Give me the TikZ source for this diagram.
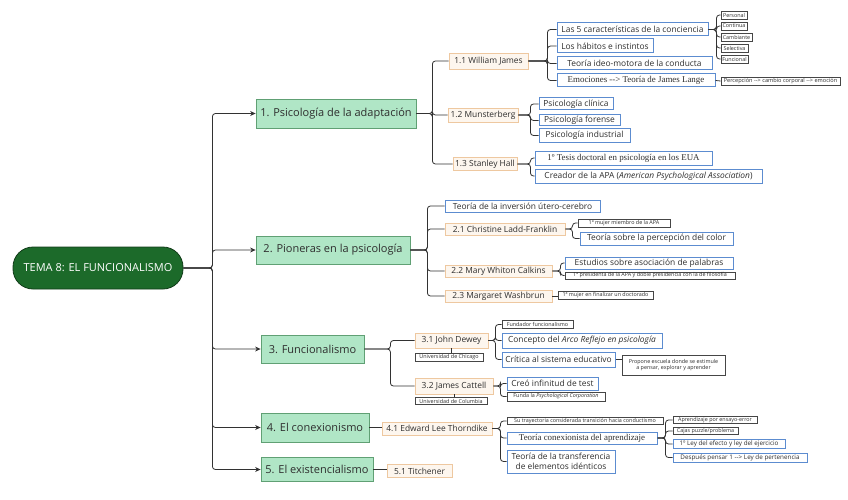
\documentclass[tikz,border=0pt]{standalone}
\usepackage{fontspec}
\setmainfont{Open Sans}
\newfontfamily\serifalt{Liberation Serif}
\usetikzlibrary{arrows.meta}
\definecolor{rootg}{RGB}{28,106,42}
\definecolor{rootd}{RGB}{18,60,25}
\definecolor{mint}{RGB}{176,230,198}
\definecolor{mintd}{RGB}{96,160,116}
\definecolor{cream}{RGB}{253,246,238}
\definecolor{tanl}{RGB}{238,200,160}
\definecolor{bluel}{RGB}{92,140,208}
\definecolor{grayl}{RGB}{70,70,70}
\definecolor{connc}{RGB}{50,50,50}
\tikzset{
 base/.style={rectangle, inner xsep=1pt, inner ysep=0.3pt, align=center, text=black!82},
 rootbox/.style={base, fill=rootg, draw=rootd, line width=0.8pt, rounded corners=20pt, text=white, font=\fontsize{11}{13}\selectfont},
 mainbox/.style={base, fill=mint, draw=mintd, line width=0.8pt, font=\fontsize{11}{13}\selectfont},
 tanbox/.style={base, fill=cream, draw=tanl, line width=0.9pt, font=\fontsize{8.4}{10}\selectfont},
 bluebox/.style={base, fill=white, draw=bluel, line width=1pt, font=\fontsize{8.4}{9.6}\selectfont},
 graybox/.style={base, fill=white, draw=grayl, line width=0.6pt, font=\fontsize{5.4}{6.3}\selectfont},
 conn/.style={draw=connc, line width=0.8pt, rounded corners=3pt},
 arr/.style={conn, -{Stealth[length=5.5pt,width=5pt]}},
}
\begin{document}
\begin{tikzpicture}[x=1pt,y=-1pt]
\useasboundingbox[fill=white] (0,0) rectangle (848,500);
% root and main nodes
\node[rootbox, minimum width=170pt, minimum height=42pt] (root) at (98,268) {TEMA 8: EL FUNCIONALISMO};
\node[mainbox, minimum width=160pt, minimum height=29pt] (n1) at (336,113.5) {1. Psicología de la adaptación};
\node[mainbox, minimum width=154pt, minimum height=28pt] (n2) at (333,250) {2. Pioneras en la psicología};
\node[mainbox, minimum width=103pt, minimum height=28pt] (n3) at (312.5,349) {3. Funcionalismo};
\node[mainbox, minimum width=108pt, minimum height=29pt] (n4) at (315,427.5) {4. El conexionismo};
\node[mainbox, minimum width=112pt, minimum height=24pt] (n5) at (317,469.5) {5. El existencialismo};
\foreach \n in {n1,n2,n3,n4,n5}{\draw[arr] (root.east) -- ++(29,0) |- (\n.west);}
% ---------- 1 ----------
\node[tanbox, minimum width=79pt, minimum height=16pt] (w1) at (488.5,61) {1.1 William James};
\node[tanbox, minimum width=70pt, minimum height=14pt] (w2) at (483,115) {1.2 Munsterberg};
\node[tanbox, minimum width=64pt, minimum height=13pt] (w3) at (485,164) {1.3 Stanley Hall};
\foreach \n in {w1,w2,w3}{\draw[conn] (n1.east) -- ++(16,0) |- (\n.west);}
\node[bluebox, minimum width=151pt, minimum height=13pt] (j1) at (632.5,29.5) {Las 5 características de la conciencia};
\node[bluebox, minimum width=96pt, minimum height=14pt] (j2) at (605,46) {Los hábitos e instintos};
\node[bluebox, minimum width=155pt, minimum height=13pt] (j3) at (634.5,63.5) {Teoría ideo-motora de la conducta};
\node[bluebox, minimum width=158pt, minimum height=13pt, font=\serifalt\fontsize{8.9}{10}\selectfont] (j4) at (636,80.5) {Emociones -{}-{}> Teoría de James Lange};
\foreach \n in {j1,j2,j3,j4}{\draw[conn] (w1.east) -- ++(19,0) |- (\n.west);}
\node[graybox, minimum width=26pt, minimum height=8pt] (c1) at (734,15) {Personal};
\node[graybox, minimum width=26pt, minimum height=8pt] (c2) at (734,26) {Continua};
\node[graybox, minimum width=31pt, minimum height=8pt] (c3) at (736.5,37) {Cambiante};
\node[graybox, minimum width=27pt, minimum height=8pt] (c4) at (734.5,48) {Selectiva};
\node[graybox, minimum width=27pt, minimum height=8pt] (c5) at (734.5,59) {Funcional};
\foreach \n in {c1,c2,c3,c4,c5}{\draw[conn] (j1.east) -- ++(8,0) |- (\n.west);}
\node[graybox, minimum width=119pt, minimum height=8pt, font=\fontsize{5.6}{6.4}\selectfont] (pe) at (780.5,81) {Percepción -{}-{}> cambio corporal -{}-{}> emoción};
\draw[conn] (j4.east) -- (pe.west);
\node[bluebox, minimum width=74pt, minimum height=12pt] (m1) at (576,104) {Psicología clínica};
\node[bluebox, minimum width=81pt, minimum height=11pt] (m2) at (579.5,120.5) {Psicología forense};
\node[bluebox, minimum width=91pt, minimum height=13pt] (m3) at (584.5,135.5) {Psicología industrial};
\foreach \n in {m1,m2,m3}{\draw[conn] (w2.east) -- ++(12,0) |- (\n.west);}
\node[bluebox, minimum width=177pt, minimum height=14pt, font=\serifalt\fontsize{8.9}{10}\selectfont] (h1) at (623.5,158) {1º Tesis doctoral en psicología en los EUA};
\node[bluebox, minimum width=227pt, minimum height=14pt] (h2) at (648.5,176) {Creador de la APA (\textit{American Psychological Association})};
\foreach \n in {h1,h2}{\draw[conn] (w3.east) -- ++(13,0) |- (\n.west);}
% ---------- 2 ----------
\node[bluebox, minimum width=155pt, minimum height=12pt] (p0) at (522.5,206) {Teoría de la inversión útero-cerebro};
\node[tanbox, minimum width=120pt, minimum height=12pt] (p1) at (505,229) {2.1 Christine Ladd-Franklin};
\node[tanbox, minimum width=107pt, minimum height=12pt] (p2) at (498.5,271) {2.2 Mary Whiton Calkins};
\node[tanbox, minimum width=107pt, minimum height=12pt] (p3) at (498.5,296) {2.3 Margaret Washbrun};
\foreach \n in {p0,p1,p2,p3}{\draw[conn] (n2.east) -- ++(17,0) |- (\n.west);}
\node[graybox, minimum width=92pt, minimum height=8pt] (q1) at (624,223) {1ª mujer miembro de la APA};
\node[bluebox, minimum width=153pt, minimum height=13pt] (q2) at (656.5,238.5) {Teoría sobre la percepción del color};
\foreach \n in {q1,q2}{\draw[conn] (p1.east) -- ++(7,0) |- (\n.west);}
\node[bluebox, minimum width=168pt, minimum height=12pt] (r1) at (649,263) {Estudios sobre asociación de palabras};
\node[graybox, minimum width=170pt, minimum height=7pt] (r2) at (650,275.5) {1ª presidenta de la APA y doble presidencia con la de filosofía};
\foreach \n in {r1,r2}{\draw[conn] (p2.east) -- ++(8,0) |- (\n.west);}
\node[graybox, minimum width=95pt, minimum height=8pt] (s1) at (605.5,295) {1ª mujer en finalizar un doctorado};
\draw[conn] (p3.east) -- (s1.west |- p3.east);
% ---------- 3 ----------
\node[tanbox, minimum width=73pt, minimum height=15pt] (d1) at (451.5,340.5) {3.1 John Dewey};
\node[graybox, minimum width=68pt, minimum height=8pt] (d1u) at (449,357) {Universidad de Chicago};
\node[tanbox, minimum width=78pt, minimum height=16pt] (d2) at (454,386) {3.2 James Cattell};
\node[graybox, minimum width=72pt, minimum height=7pt] (d2u) at (451,401) {Universidad de Columbia};
\foreach \n in {d1,d2}{\draw[conn] (n3.east) -- ++(26,0) |- (\n.west);}
\draw[conn] (d1.south) -- (d1.south |- d1u.north);
\draw[conn] (d2.south) -- (d2.south |- d2u.north);
\node[graybox, minimum width=71pt, minimum height=8pt] (e1) at (537.5,324.5) {Fundador funcionalismo};
\node[bluebox, minimum width=160pt, minimum height=15pt] (e2) at (582,340.5) {Concepto del \textit{Arco Reflejo en psicología}};
\node[bluebox, minimum width=113pt, minimum height=15pt] (e3) at (558.5,359.5) {Crítica al sistema educativo};
\foreach \n in {e1,e2,e3}{\draw[conn] (d1.east) -- ++(7,0) |- (\n.west);}
\node[graybox, minimum width=103pt, minimum height=20pt] (e4) at (673.5,365) {Propone escuela donde se estimule\\a pensar, explorar y aprender};
\draw[conn] (e3.east) -- (e4.west |- e3.east);
\node[bluebox, minimum width=91pt, minimum height=13pt] (f1) at (552.5,383.5) {Creó infinitud de test};
\node[graybox, minimum width=98pt, minimum height=9pt] (f2) at (556,396.5) {Funda la \textit{Psychological Corporation}};
\foreach \n in {f1,f2}{\draw[conn] (d2.east) -- ++(7,0) |- (\n.west);}
% ---------- 4 ----------
\node[tanbox, minimum width=110pt, minimum height=13pt] (t1) at (437,428.5) {4.1 Edward Lee Thorndike};
\draw[conn] (n4.east) -- (t1.west |- n4.east);
\node[graybox, minimum width=156pt, minimum height=7pt] (g1) at (585,421) {Su trayectoria considerada transición hacia conductismo};
\node[bluebox, minimum width=150pt, minimum height=12pt, font=\serifalt\fontsize{8.9}{10}\selectfont] (g2) at (582,438) {Teoría conexionista del aprendizaje};
\node[bluebox, minimum width=108pt, minimum height=23pt, font=\fontsize{8.4}{9.8}\selectfont] (g3) at (561,461.5) {Teoría de la transferencia\\de elementos idénticos};
\foreach \n in {g1,g2,g3}{\draw[conn] (t1.east) -- ++(8,0) |- (\n.west);}
\node[graybox, minimum width=84pt, minimum height=7pt] (k1) at (715,420) {Aprendizaje por ensayo-error};
\node[graybox, minimum width=65pt, minimum height=7pt] (k2) at (705.5,431) {Cajas puzzle/problema};
\node[bluebox, minimum width=112pt, minimum height=9pt, font=\fontsize{6.3}{7}\selectfont] (k3) at (729,444) {1º Ley del efecto y ley del ejercicio};
\node[bluebox, minimum width=134pt, minimum height=9pt, font=\fontsize{6.3}{7}\selectfont] (k4) at (740,457.5) {Después pensar 1 -{}-{}> Ley de pertenencia};
\foreach \n in {k1,k2,k3,k4}{\draw[conn] (g2.east) -- ++(8,0) |- (\n.west);}
% ---------- 5 ----------
\node[tanbox, minimum width=65pt, minimum height=13pt] (u1) at (419.5,471) {5.1 Titchener};
\draw[conn] (n5.east) -- (u1.west |- n5.east);
\end{tikzpicture}
\end{document}
